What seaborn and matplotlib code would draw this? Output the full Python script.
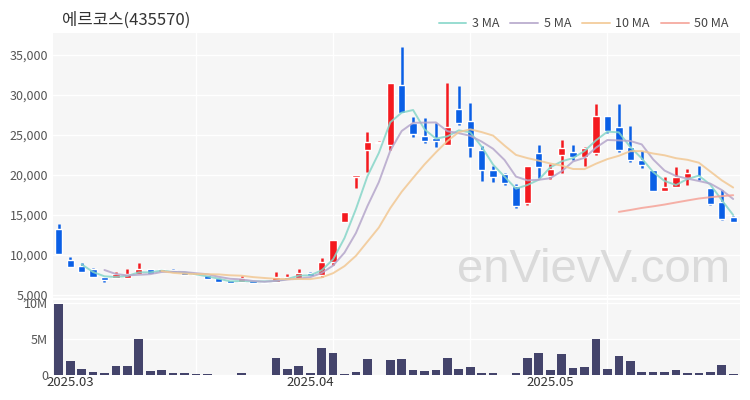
import numpy as np
import pandas as pd
import matplotlib
matplotlib.use("Agg")
import matplotlib.pyplot as plt
import seaborn as sns

# daily OHLC (KRW), oldest first
opens = [13250, 9375, 8625, 8250, 7250, 7125, 7125, 7625, 8250, 7875,
         8125, 7875, 7750, 7500, 7125, 6875, 6625, 6875, 6625, 6625,
         6875, 7125, 7750, 7500, 9125, 14125, 19750, 23125, 24000, 23750,
         31250, 26500, 24875, 24625, 23750, 28250, 26750, 23125, 20625, 20125,
         18625, 16500, 22750, 19875, 22500, 22875, 22250, 22750, 27375, 26000,
         23500, 21875, 20625, 18000, 18500, 19625, 19875, 18375, 16625, 14750]
highs = [13900, 9750, 9000, 8400, 7250, 7875, 8250, 9000, 8300, 8300,
         8200, 7900, 7800, 7550, 7150, 6900, 7375, 6900, 6650, 7875,
         7625, 8250, 7875, 9625, 11900, 15400, 20000, 25375, 24200, 31500,
         36000, 27250, 27125, 26500, 31500, 31125, 29000, 23600, 21125, 20250,
         18875, 21125, 23750, 21375, 24375, 23750, 23500, 28875, 27400, 28875,
         26125, 23000, 20650, 19750, 21000, 20750, 21125, 18400, 18125, 14875]
lows = [10100, 8500, 7850, 7200, 6625, 7100, 7100, 7600, 7600, 7850,
        7700, 7450, 7450, 6950, 6600, 6450, 6600, 6450, 6450, 6600,
        6850, 7100, 7350, 7250, 8750, 14100, 18375, 20375, 24000, 23125,
        27700, 24750, 24000, 23500, 23700, 26250, 22250, 19250, 19125, 18750,
        15875, 16250, 19625, 19500, 20250, 21875, 21125, 22500, 25250, 22875,
        21625, 20875, 18000, 18000, 18450, 18750, 19375, 16300, 14400, 14100]
closes = [10125, 8500, 7875, 7250, 6875, 7625, 7625, 8250, 7625, 8250,
          7750, 7500, 7500, 7000, 6625, 6500, 7125, 6500, 6500, 7250,
          7250, 7750, 7375, 9125, 11875, 15375, 20000, 24125, 24125, 31500,
          27750, 25125, 24250, 24250, 26000, 26500, 23500, 20625, 19750, 19000,
          16125, 21125, 21000, 20750, 23375, 22250, 23375, 27375, 25500, 23125,
          21875, 21250, 18000, 18500, 19750, 20250, 19750, 16375, 14500, 14125]
# daily volume, millions of shares
volumes_m = [9.86, 2.0, 0.83, 0.37, 0.32, 1.25, 1.25, 4.95, 0.5, 0.65,
             0.23, 0.23, 0.14, 0.1, 0.05, 0.05, 0.28, 0.05, 0.05, 2.36,
             0.83, 1.3, 0.28, 3.7, 3.05, 0.18, 0.46, 2.2, 0.03, 2.1,
             2.2, 0.74, 0.5, 0.74, 2.3, 0.83, 1.1, 0.28, 0.32, 0.05,
             0.32, 2.3, 3.05, 0.7, 2.9, 1.0, 1.1, 5.05, 0.83, 2.7,
             1.95, 0.37, 0.37, 0.46, 0.7, 0.32, 0.32, 0.42, 1.4, 0.18]

month_labels = ["2025.03", "2025.04", "2025.05"]
month_first_idx = [1, 22, 43]
ma_windows = [3, 5, 10, 50]
ma_colors = ["#86d6c9", "#b5a6cb", "#f2c893", "#f5a398"]

UP_COLOR = "#f41a1f"
DOWN_COLOR = "#0a5fe6"
VOL_COLOR = "#44446b"

df = pd.DataFrame({"open": opens, "high": highs, "low": lows,
                   "close": closes, "volume": np.array(volumes_m) * 1e6})
df["idx"] = np.arange(len(df))
for w in ma_windows:
    df[f"ma{w}"] = df["close"].rolling(w).mean()

sns.set_theme(style="white")
plt.rcParams["font.family"] = ["Noto Sans CJK KR", "DejaVu Sans"]

fig = plt.figure(figsize=(7.5, 4), dpi=100)
ax = fig.add_axes([0.0707, 0.255, 0.916, 0.6625])
axv = fig.add_axes([0.0707, 0.0625, 0.916, 0.1875], sharex=ax)

for a in (ax, axv):
    a.set_facecolor("#f6f6f6")
    for s in a.spines.values():
        s.set_visible(False)
    a.tick_params(length=0, labelsize=9, colors="#555555")
    for gx in (12, 24, 36, 48):
        a.axvline(gx, color="white", lw=1, zorder=0)

# candles
up = df["close"] >= df["open"]
colors = np.where(up, UP_COLOR, DOWN_COLOR)
body_low = df[["open", "close"]].min(axis=1)
body_h = (df["close"] - df["open"]).abs().clip(lower=180)
ax.vlines(df["idx"], df["low"], df["high"], colors=colors, lw=1.8, zorder=2)
ax.bar(df["idx"], body_h, bottom=body_low, width=0.64, color=colors, zorder=3)

# moving averages
for w, c in zip(ma_windows, ma_colors):
    sns.lineplot(data=df, x="idx", y=f"ma{w}", ax=ax, color=c, lw=1.4,
                 alpha=0.85, label=f"{w} MA", zorder=4)

ax.set_ylim(4625, 37750)
ax.set_yticks(np.arange(5000, 35001, 5000))
ax.yaxis.set_major_formatter(plt.FuncFormatter(lambda v, p: f"{v:,.0f}"))
ax.grid(axis="y", color="white", lw=1)
ax.set_xlabel("")
ax.set_ylabel("")
ax.tick_params(axis="x", labelbottom=False)
ax.legend(loc="center right", bbox_to_anchor=(1.0, 1.035), ncol=4, frameon=False,
          fontsize=9, handlelength=2.2, columnspacing=0.9, handletextpad=0.45,
          labelcolor="#444444")

ax.text(0.985, 0.105, "enVievV.com", transform=ax.transAxes, ha="right", va="center",
        fontsize=34, color="#dadada", family="Liberation Sans", zorder=1)

# volume
sns.barplot(data=df, x="idx", y="volume", ax=axv, color=VOL_COLOR, width=0.76,
            native_scale=True, saturation=1, linewidth=0, zorder=3)
axv.set_ylim(0, 10.4e6)
axv.set_yticks([0, 5e6, 10e6])
axv.set_yticklabels(["0", "5M", "10M"])
axv.grid(axis="y", color="white", lw=1)
axv.set_xlim(-0.5, 59.6)
axv.set_xticks(month_first_idx)
axv.set_xticklabels(month_labels, color="#333333", fontsize=9.5)
axv.tick_params(axis="x", pad=1)
axv.set_xlabel("")
axv.set_ylabel("")

fig.text(62 / 750, 1 - 20 / 400, "에르코스(435570)", fontsize=12, color="#333333",
         va="center", ha="left")

plt.savefig("out.png", dpi=100)
plt.close()
